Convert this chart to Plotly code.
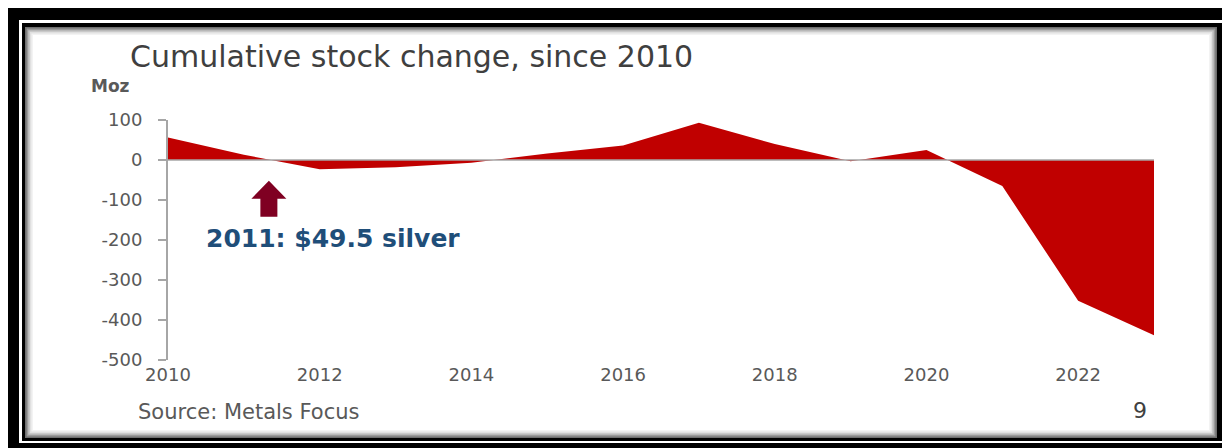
import plotly.graph_objects as go

# ---- data ----
years = list(range(2010, 2024))
stock_change = [56, 13, -23, -18, -7, 16, 36, 93, 40, -3, 25, -65, -352, -438]
x_tick_vals = [2010, 2012, 2014, 2016, 2018, 2020, 2022]
x_tick_text = ["2010", "2012", "2014", "2016", "2018", "2020", "2022"]
y_tick_vals = [100, 0, -100, -200, -300, -400, -500]
y_tick_text = ["100", "0", "-100", "-200", "-300", "-400", "-500"]
title_text = "Cumulative stock change, since 2010"
unit_text = "Moz"
note_text = "2011: $49.5 silver"
note_year = 2011.33
note_tip_value = -52
source_text = "Source: Metals Focus"
page_text = "9"

W, H = 1222, 448
FONT = "DejaVu Sans"


def px(x):
    return x / W


def py(y):
    return 1 - y / H


fig = go.Figure()
fig.add_trace(go.Scatter(
    x=years, y=stock_change, mode="lines", fill="tozeroy",
    fillcolor="#c00000", line=dict(width=0, color="#c00000"),
    hoverinfo="skip", showlegend=False,
))

shapes = []
# frame: outer black, white gap, inner black, shadowed interior
shapes.append(dict(type="rect", xref="paper", yref="paper", x0=px(8), x1=px(1260), y0=py(8), y1=py(470),
                   fillcolor="black", line=dict(width=0), layer="below"))
shapes.append(dict(type="rect", xref="paper", yref="paper", x0=px(19), x1=px(1260), y0=py(20), y1=py(443),
                   fillcolor="white", line=dict(width=0), layer="below"))
shapes.append(dict(type="rect", xref="paper", yref="paper", x0=px(22), x1=px(1260), y0=py(23), y1=py(441),
                   fillcolor="black", line=dict(width=0), layer="below"))
shadow = ["#6e6e6e", "#9a9a9a", "#c2c2c2", "#e0e0e0", "#f3f3f3", "#ffffff"]
for i, c in enumerate(shadow):
    d = 1.6 * i
    shapes.append(dict(type="rect", xref="paper", yref="paper",
                       x0=px(25 + d), x1=px(1217 - d), y0=py(27 + d), y1=py(438 - d),
                       fillcolor=c, line=dict(width=0), layer="below"))
# zero line drawn above the area
shapes.append(dict(type="line", xref="x", yref="y", x0=years[0], x1=years[-1], y0=0, y1=0,
                   line=dict(color="#a6a6a6", width=1.6), layer="above"))
# block arrow pointing at the 2011 zero crossing (pixel-sized, anchored in data space)
shapes.append(dict(type="path", xref="x", yref="y", xsizemode="pixel", ysizemode="pixel",
                   xanchor=note_year, yanchor=note_tip_value,
                   path="M0,0 L17.5,-18 L8.5,-18 L8.5,-36 L-8.5,-36 L-8.5,-18 L-17.5,-18 Z",
                   fillcolor="#7f0022", line=dict(width=0), layer="above"))

annotations = [
    dict(xref="paper", yref="paper", x=px(128), y=py(56), xanchor="left", yanchor="middle",
         text=title_text, showarrow=False, font=dict(family=FONT, size=30, color="#3f3f3f")),
    dict(xref="paper", yref="paper", x=px(89), y=py(86), xanchor="left", yanchor="middle",
         text=unit_text, showarrow=False, font=dict(family=FONT, size=17, color="#595959", weight="bold")),
    dict(xref="paper", yref="paper", x=px(204), y=py(238), xanchor="left", yanchor="middle",
         text=note_text, showarrow=False, font=dict(family=FONT, size=25, color="#1f4e79", weight="bold")),
    dict(xref="paper", yref="paper", x=px(136), y=py(412), xanchor="left", yanchor="middle",
         text=source_text, showarrow=False, font=dict(family=FONT, size=21, color="#595959")),
    dict(xref="paper", yref="paper", x=px(1140), y=py(410), xanchor="center", yanchor="middle",
         text=page_text, showarrow=False, font=dict(family=FONT, size=22, color="#404040")),
]

fig.update_layout(
    width=W, height=H, autosize=False,
    margin=dict(l=0, r=0, t=0, b=0, pad=0),
    paper_bgcolor="white", plot_bgcolor="rgba(0,0,0,0)",
    shapes=shapes, annotations=annotations, showlegend=False,
    xaxis=dict(domain=[px(168), px(1154)], range=[2010, 2023], showgrid=False, zeroline=False,
               automargin=False,
               showline=False, ticks="", tickvals=x_tick_vals, ticktext=x_tick_text,
               tickfont=dict(family=FONT, size=18, color="#595959"), ticklabelstandoff=2),
    yaxis=dict(domain=[py(360), py(120)], range=[-500, 100], showgrid=False, zeroline=False,
               automargin=False,
               showline=True, linecolor="#a6a6a6", linewidth=2, ticks="outside", ticklen=8,
               tickcolor="#a6a6a6", tickwidth=2, tickvals=y_tick_vals, ticktext=y_tick_text,
               tickfont=dict(family=FONT, size=18, color="#595959"), ticklabelstandoff=12),
)

fig.write_html("out.html", config=dict(displayModeBar=False))
